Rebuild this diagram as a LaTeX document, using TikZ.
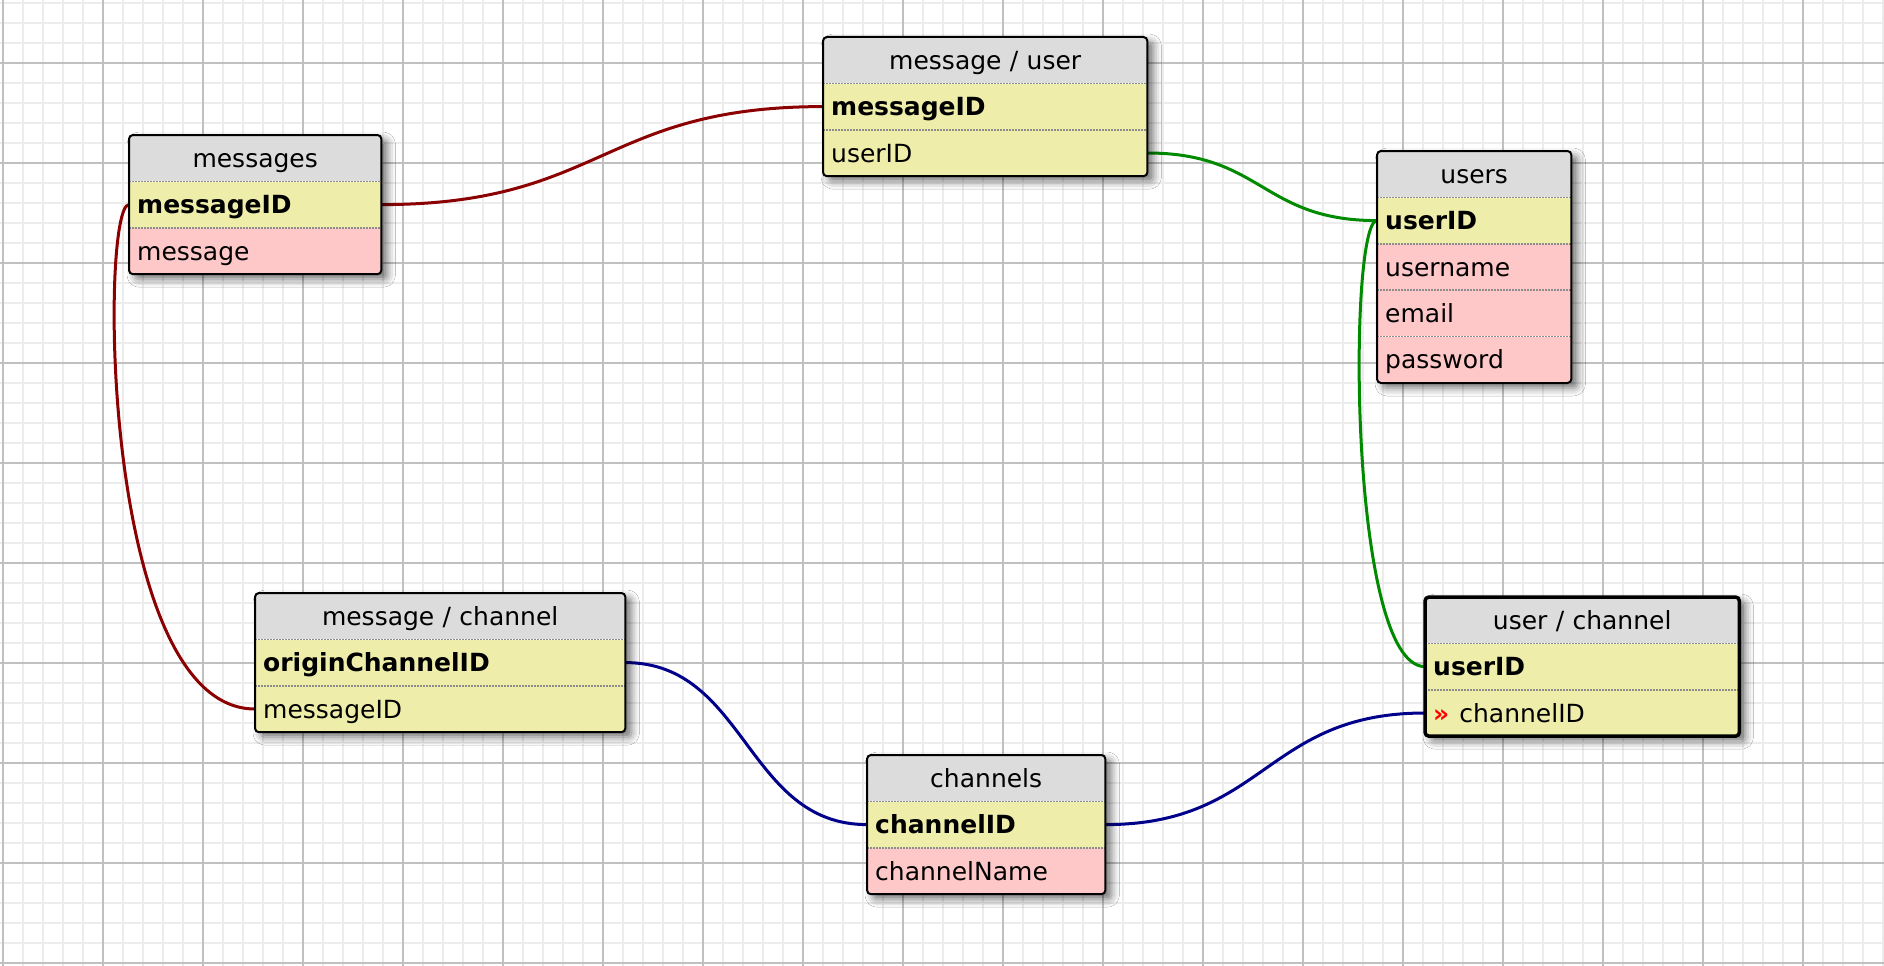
\documentclass[tikz,border=0pt]{standalone}
\usepackage{fontspec}
\setmainfont{DejaVu Sans}
\usepackage{xcolor}
\usetikzlibrary{positioning,fit,shadows.blur}
\definecolor{headgray}{HTML}{DCDCDC}
\definecolor{keyyellow}{HTML}{EEEEAA}
\definecolor{fieldpink}{HTML}{FFC8C8}
\definecolor{gridminor}{HTML}{ECECEC}
\definecolor{gridmajor}{HTML}{C0C0C0}
\definecolor{relred}{HTML}{8B0000}
\definecolor{relgreen}{HTML}{008A00}
\definecolor{relblue}{HTML}{00008B}
\definecolor{sepgray}{HTML}{8C8C8C}
\pgfdeclarelayer{bg}
\pgfsetlayers{bg,main}

\begin{document}
\begin{tikzpicture}[x=1pt,y=-1pt,
  cell/.style={rectangle, inner xsep=8pt, inner ysep=0pt, minimum height=46pt,
    text width=#1, text height=18pt, text depth=0pt,
    font=\fontsize{25}{30}\selectfont},
  headrow/.style={cell=#1, fill=headgray, align=center},
  keyrow/.style={cell=#1, fill=keyyellow, align=left,
    font=\fontsize{25}{30}\selectfont\bfseries},
  fkrow/.style={cell=#1, fill=keyyellow, align=left},
  fieldrow/.style={cell=#1, fill=fieldpink, align=left},
  sepline/.style={sepgray, line width=1.5pt, dash pattern=on 1.5pt off 1.5pt},
  tablebox/.style={draw, line width=2pt, rounded corners=4pt, inner sep=0pt},
  shadowbox/.style={fill=white, rounded corners=4pt, inner sep=0pt,
    blur shadow={shadow xshift=6pt, shadow yshift=-5pt, shadow blur radius=8pt, shadow opacity=55}},
  rel/.style={line width=3pt}]

\useasboundingbox (0,0) rectangle (1884,966);
\begin{pgfonlayer}{bg}
  \fill[white] (0,0) rectangle (1884,966);
  \foreach \i in {3,23,...,1883} \draw[gridminor, line width=2pt] (\i,0) -- (\i,966);
  \foreach \j in {3,23,...,963} \draw[gridminor, line width=2pt] (0,\j) -- (1884,\j);
  \foreach \i in {3,103,...,1803} \draw[gridmajor, line width=1.8pt] (\i,0) -- (\i,966);
  \foreach \j in {63,163,...,963} \draw[gridmajor, line width=1.8pt] (0,\j) -- (1884,\j);
\end{pgfonlayer}

% messages
\node[headrow=236pt, anchor=north west] (msgh) at (129,135) {messages};
\node[keyrow=236pt, below=0pt of msgh] (msgid) {messageID};
\node[fieldrow=236pt, below=0pt of msgid] (msgtext) {message};

% message / user
\node[headrow=308pt, anchor=north west] (muh) at (823,37) {message / user};
\node[keyrow=308pt, below=0pt of muh] (mumsg) {messageID};
\node[fkrow=308pt, below=0pt of mumsg] (muuser) {userID};

% users
\node[headrow=178pt, anchor=north west] (usrh) at (1377,151) {users};
\node[keyrow=178pt, below=0pt of usrh] (usrid) {userID};
\node[fieldrow=178pt, below=0pt of usrid] (usrname) {username};
\node[fieldrow=178pt, below=0pt of usrname] (usremail) {email};
\node[fieldrow=178pt, below=0pt of usremail] (usrpass) {password};

% message / channel
\node[headrow=354pt, anchor=north west] (mch) at (255,593) {message / channel};
\node[keyrow=354pt, below=0pt of mch] (mcorigin) {originChannelID};
\node[fkrow=354pt, below=0pt of mcorigin] (mcmsg) {messageID};

% channels
\node[headrow=222pt, anchor=north west] (chh) at (867,755) {channels};
\node[keyrow=222pt, below=0pt of chh] (chid) {channelID};
\node[fieldrow=222pt, below=0pt of chid] (chname) {channelName};

% user / channel
\node[headrow=298pt, anchor=north west] (uch) at (1425,597) {user / channel};
\node[keyrow=298pt, below=0pt of uch] (ucuser) {userID};
\node[fkrow=298pt, below=0pt of ucuser] (ucchan) {\textcolor{red}{\bfseries »}\hspace{10pt}channelID};

% relations and shadows, under the tables
\begin{pgfonlayer}{bg}
  \draw[rel, relred] (msgid.east) .. controls +(221,0) and +(-221,0) .. (mumsg.west);
  \draw[rel, relred] (msgid.west) .. controls +(-29,0) and +(-155,0) .. (mcmsg.west);
  \draw[rel, relgreen] (muuser.east) .. controls +(115,0) and +(-115,0) .. (usrid.west);
  \draw[rel, relgreen] (usrid.west) .. controls +(-29,0) and +(-77,0) .. (ucuser.west);
  \draw[rel, relblue] (mcorigin.east) .. controls +(121,0) and +(-121,0) .. (chid.west);
  \draw[rel, relblue] (chid.east) .. controls +(160,0) and +(-160,0) .. (ucchan.west);
  \foreach \a/\b in {msgh/msgtext, muh/muuser, usrh/usrpass, mch/mcmsg, chh/chname, uch/ucchan}
    \node[shadowbox, fit=(\a)(\b)] {};
\end{pgfonlayer}

\foreach \n in {msgh,msgid,muh,mumsg,usrh,usrid,usrname,usremail,mch,mcorigin,chh,chid,uch,ucuser}
  \draw[sepline] (\n.south west) -- (\n.south east);

\foreach \t/\a/\b in {msg/msgh/msgtext, mu/muh/muuser, usr/usrh/usrpass, mc/mch/mcmsg, ch/chh/chname}
  \node[tablebox, fit=(\a)(\b)] (\t) {};
\node[tablebox, line width=3.5pt, fit=(uch)(ucchan)] (uc) {};
\end{tikzpicture}
\end{document}
